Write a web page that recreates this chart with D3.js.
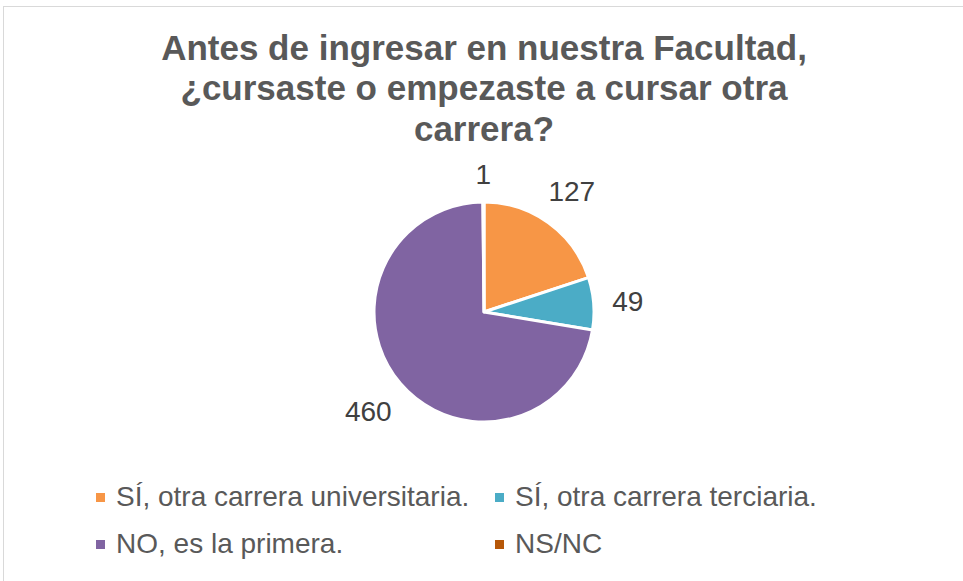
<!DOCTYPE html>
<html>
<head>
<meta charset="utf-8">
<script src="https://cdn.jsdelivr.net/npm/d3@7"></script>
<style>
  body { margin: 0; background: #fff; }
  text { font-family: "Liberation Sans", Arial, sans-serif; }
</style>
</head>
<body>
<script>
var categories = ["SÍ, otra carrera universitaria.", "SÍ, otra carrera terciaria.", "NO, es la primera.", "NS/NC"];
var values = [127, 49, 460, 1];
var colors = ["#F79646", "#4BACC6", "#8064A2", "#B65708"];
var titleLines = ["Antes de ingresar en nuestra Facultad,", "¿cursaste o empezaste a cursar otra", "carrera?"];

var width = 963, height = 581;
var cx = 484, cy = 312, radius = 110;

var svg = d3.select("body").append("svg")
  .attr("width", width)
  .attr("height", height);

// chart frame (only top and left edges show)
svg.append("rect")
  .attr("x", 3.5).attr("y", 6.5)
  .attr("width", width + 10).attr("height", height + 10)
  .attr("fill", "#fff")
  .attr("stroke", "#d9d9d9")
  .attr("stroke-width", 1);

svg.append("g").selectAll("text")
  .data(titleLines)
  .enter().append("text")
  .attr("x", 484)
  .attr("y", function (d, i) { return 59.5 + i * 40.5; })
  .attr("text-anchor", "middle")
  .attr("font-size", "35px")
  .attr("font-weight", "bold")
  .attr("fill", "#595959")
  .text(function (d) { return d; });

var data = categories.map(function (c, i) { return { name: c, value: values[i], color: colors[i] }; });

var pie = d3.pie().sort(null).value(function (d) { return d.value; });
var arc = d3.arc().innerRadius(0).outerRadius(radius);

var g = svg.append("g").attr("transform", "translate(" + cx + "," + cy + ")");

var arcs = pie(data);

g.selectAll("path")
  .data(arcs)
  .enter().append("path")
  .attr("d", arc)
  .attr("fill", function (d) { return d.data.color; })
  .attr("stroke", "#fff")
  .attr("stroke-width", 3)
  .attr("stroke-linejoin", "round");

// data labels, outside end
var fontSize = 28;
var labels = g.selectAll(".lbl")
  .data(arcs)
  .enter().append("text")
  .attr("class", "lbl")
  .attr("font-size", fontSize + "px")
  .attr("fill", "#404040")
  .attr("text-anchor", "middle")
  .text(function (d) { return d.data.value; });

labels.each(function (d) {
  var w = this.getComputedTextLength();
  var a = (d.startAngle + d.endAngle) / 2;
  var sx = Math.sin(a), sy = -Math.cos(a);
  var ext = Math.abs(sx) * w / 2 + Math.abs(sy) * 10;
  var rr = radius + 18 + ext;
  d3.select(this)
    .attr("x", sx * rr)
    .attr("y", sy * rr + 10);
});

// legend
var legend = svg.append("g").selectAll("g")
  .data(data)
  .enter().append("g")
  .attr("transform", function (d, i) {
    return "translate(" + (96 + (i % 2) * 399) + "," + (506 + Math.floor(i / 2) * 47) + ")";
  });

legend.append("rect")
  .attr("x", 0).attr("y", -13)
  .attr("width", 9).attr("height", 9)
  .attr("fill", function (d) { return d.color; });

legend.append("text")
  .attr("x", 20)
  .attr("y", 0)
  .attr("font-size", "28px")
  .attr("fill", "#595959")
  .text(function (d) { return d.name; });
</script>
</body>
</html>
